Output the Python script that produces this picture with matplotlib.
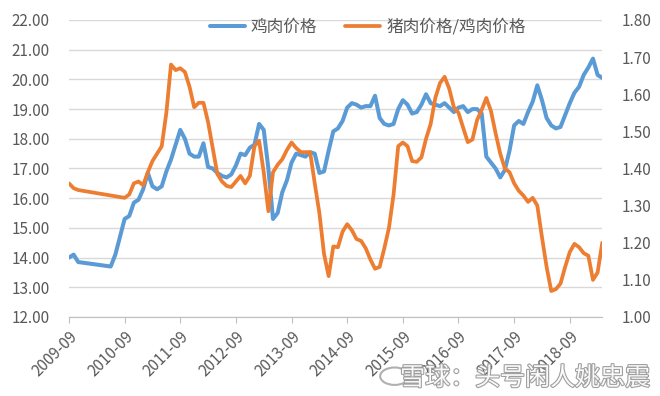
import numpy as np
import pandas as pd
import matplotlib
matplotlib.use('Agg')
import matplotlib.pyplot as plt
import matplotlib.patheffects as pe
from matplotlib.patches import Circle

plt.rcParams['font.family'] = ['Noto Sans CJK SC', 'DejaVu Sans']

nan = np.nan
months = pd.period_range('2009-09', '2019-04', freq='M').strftime('%Y-%m').tolist()

# 鸡肉价格 (left axis), monthly, gap where source has no data
chicken = [14.0, 14.1, 13.85, nan, nan, nan, nan, nan, nan, 13.7,
           14.1, 14.7, 15.3, 15.4, 15.85, 15.95, 16.3, 16.85, 16.4, 16.3,
           16.4, 16.9, 17.3, 17.8, 18.3, 18.0, 17.5, 17.4, 17.4, 17.85,
           17.05, 17.0, 16.85, 16.75, 16.7, 16.8, 17.1, 17.5, 17.45, 17.7,
           17.8, 18.5, 18.3, 17.0, 15.3, 15.5, 16.2, 16.6, 17.2, 17.5,
           17.45, 17.4, 17.55, 17.5, 16.85, 16.9, 17.6, 18.25, 18.35, 18.6,
           19.05, 19.2, 19.15, 19.05, 19.1, 19.1, 19.45, 18.7, 18.5, 18.45,
           18.5, 19.0, 19.3, 19.15, 18.85, 18.9, 19.15, 19.5, 19.2, 19.15,
           19.1, 19.2, 19.05, 18.9, 19.05, 19.1, 18.9, 19.0, 19.0, 18.85,
           17.4, 17.2, 17.0, 16.7, 16.95, 17.6, 18.45, 18.6, 18.5, 18.9,
           19.25, 19.8, 19.3, 18.7, 18.45, 18.35, 18.4, 18.8, 19.2, 19.55,
           19.75, 20.15, 20.4, 20.7, 20.15, 20.05]

# 猪肉价格/鸡肉价格 (right axis)
ratio = [1.36, 1.347, 1.342, nan, nan, nan, nan, nan, nan, nan,
         nan, nan, 1.321, 1.33, 1.36, 1.365, 1.355, 1.39, 1.42, 1.44,
         1.46, 1.55, 1.68, 1.665, 1.67, 1.66, 1.62, 1.565, 1.577, 1.577,
         1.525, 1.455, 1.385, 1.365, 1.353, 1.35, 1.365, 1.38, 1.36, 1.38,
         1.46, 1.475, 1.39, 1.285, 1.39, 1.41, 1.425, 1.45, 1.47, 1.455,
         1.444, 1.444, 1.444, 1.36, 1.28, 1.17, 1.11, 1.19, 1.188, 1.23,
         1.25, 1.234, 1.21, 1.205, 1.185, 1.155, 1.13, 1.135, 1.185, 1.24,
         1.33, 1.46, 1.47, 1.46, 1.42, 1.418, 1.43, 1.48, 1.52, 1.59,
         1.63, 1.647, 1.615, 1.565, 1.55, 1.51, 1.471, 1.478, 1.53, 1.558,
         1.59, 1.555, 1.495, 1.44, 1.40, 1.39, 1.36, 1.34, 1.327, 1.31,
         1.321, 1.30, 1.215, 1.135, 1.07, 1.075, 1.09, 1.135, 1.175, 1.197,
         1.188, 1.172, 1.165, 1.10, 1.12, 1.20]

x = np.arange(len(months))
chicken = np.array(chicken)
ratio = np.array(ratio)
mc = ~np.isnan(chicken)
mr = ~np.isnan(ratio)

fig = plt.figure(figsize=(6.6, 3.96), dpi=100)
ax = fig.add_axes([0.1045, 0.1995, 0.808, 0.75])
ax2 = ax.twinx()

blue = '#5B9BD5'
orange = '#ED7D31'
grey = '#595959'

l1, = ax.plot(x[mc], chicken[mc], color=blue, lw=2.9, solid_capstyle='round')
l2, = ax2.plot(x[mr], ratio[mr], color=orange, lw=2.7, solid_capstyle='round')

ax.set_ylim(12, 22)
ax.set_yticks(np.arange(12, 22.01, 1))
ax.yaxis.set_major_formatter(matplotlib.ticker.FormatStrFormatter('%.2f'))
ax2.set_ylim(1.0, 1.8)
ax2.set_yticks(np.arange(1.0, 1.801, 0.1))
ax2.yaxis.set_major_formatter(matplotlib.ticker.FormatStrFormatter('%.2f'))
ax.set_xlim(0, len(months) - 1)

ax.grid(axis='y', color='#D9D9D9', lw=1)
ax.set_axisbelow(True)
for a in (ax, ax2):
    for s in a.spines.values():
        s.set_visible(False)
ax.spines['bottom'].set_visible(True)
ax.spines['bottom'].set_color('#BFBFBF')

ax.tick_params(axis='y', length=0, pad=14, labelsize=11, labelcolor=grey)
ax2.tick_params(axis='y', length=0, pad=14, labelsize=11, labelcolor=grey)

tick_idx = list(range(0, len(months), 12))
ax.set_xticks(tick_idx)
ax.set_xticklabels([months[i] for i in tick_idx], rotation=45, ha='right',
                   va='top', rotation_mode='anchor')
ax.tick_params(axis='x', length=4, color='#BFBFBF', labelsize=11,
               labelcolor=grey, pad=4)

ax2.legend([l1, l2], ['鸡肉价格', '猪肉价格/鸡肉价格'], ncol=2, frameon=False,
           loc='upper center', bbox_to_anchor=(0.557, 0.99), fontsize=12,
           labelcolor=grey, handlelength=2.1, columnspacing=1.7,
           handletextpad=0.35, bbox_transform=fig.transFigure)

# watermark
wm = fig.text(0.985, 0.045, '雪球：头号闲人姚忠震', ha='right', va='center',
              fontsize=18, color='white', alpha=0.95)
wm.set_path_effects([pe.withStroke(linewidth=1.6, foreground='#9a9a9a')])
logo = Circle((0.598, 0.05), 0.022, transform=fig.transFigure, fill=False,
              ec='#b0b0b0', lw=1.5)
fig.add_artist(logo)

fig.savefig('out.png', dpi=100)
